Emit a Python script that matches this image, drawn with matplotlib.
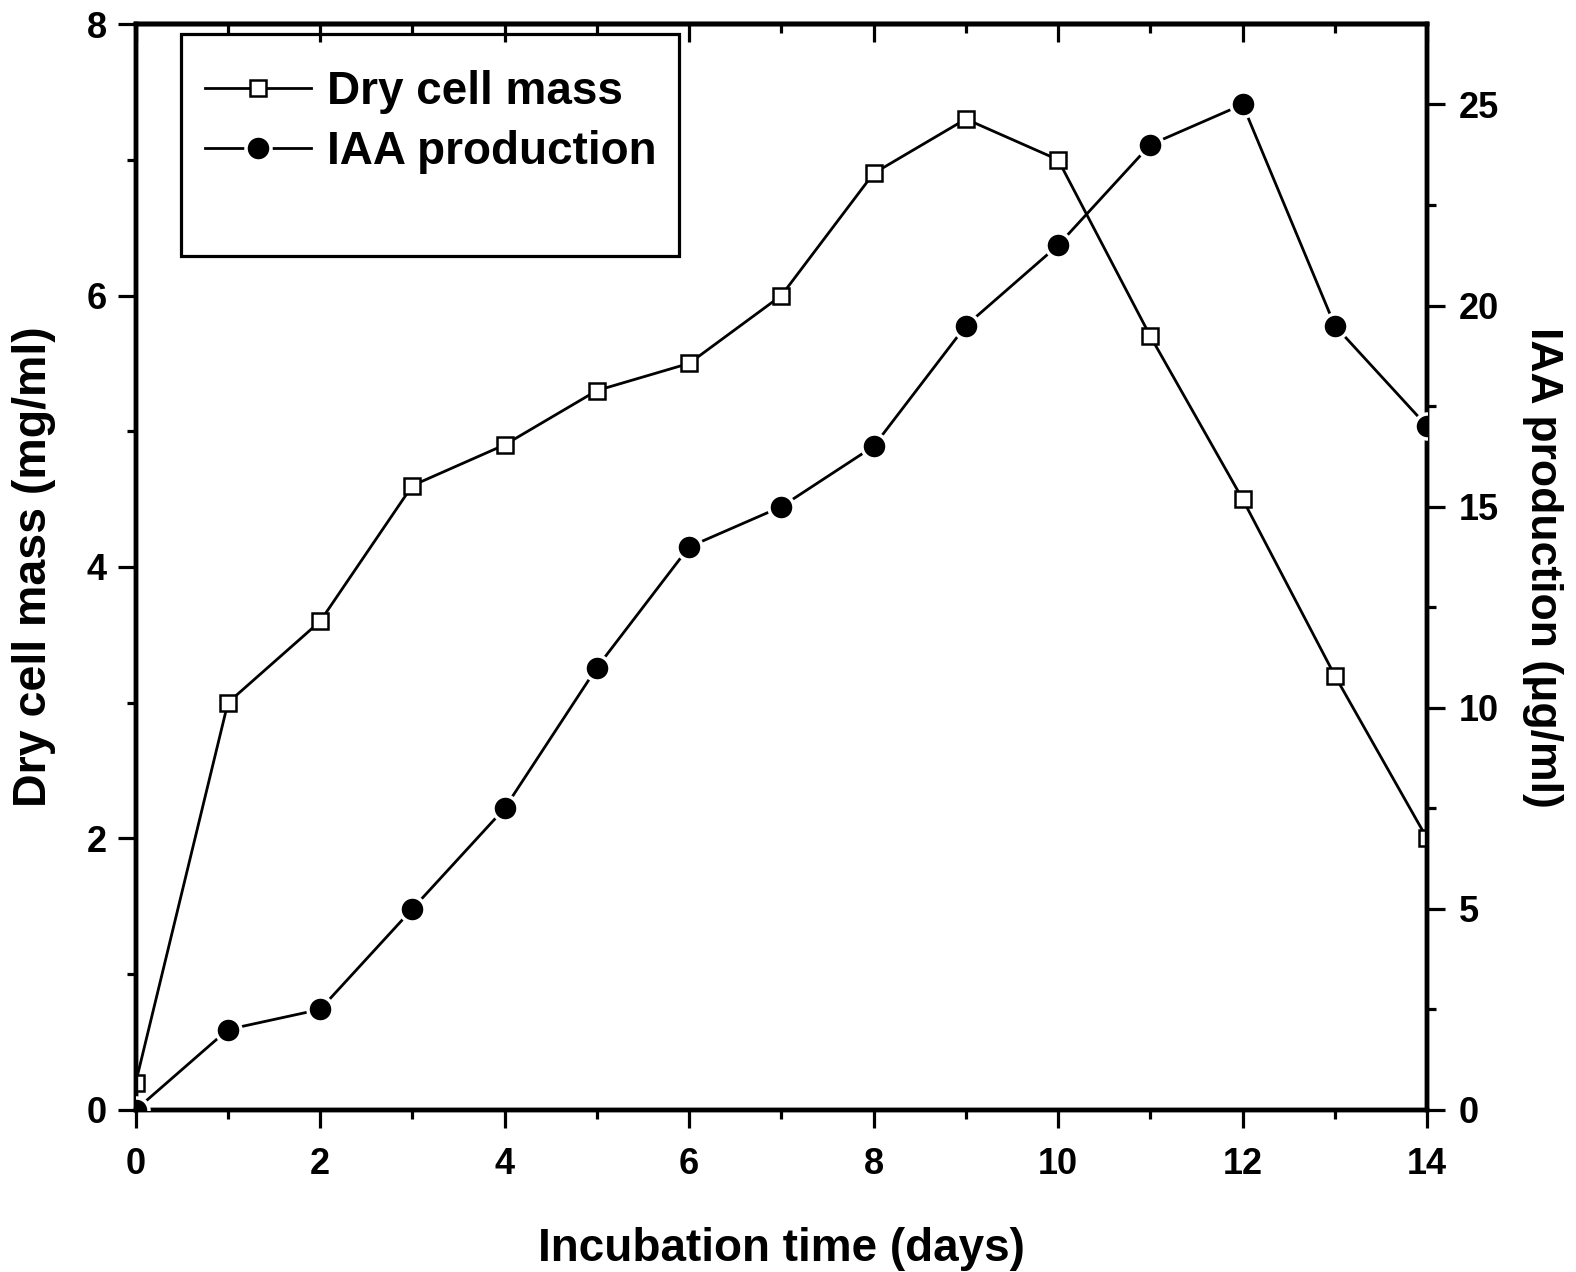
import numpy as np
import matplotlib
matplotlib.use("Agg")
import matplotlib.pyplot as plt
from matplotlib.patches import Rectangle

plt.rcParams['font.family'] = ['Liberation Sans', 'DejaVu Sans']
plt.rcParams['font.weight'] = 'bold'

# data
days = [0, 1, 2, 3, 4, 5, 6, 7, 8, 9, 10, 11, 12, 13, 14]
dry_mass = [0.2, 3.0, 3.6, 4.6, 4.9, 5.3, 5.5, 6.0, 6.9, 7.3, 7.0, 5.7, 4.5, 3.2, 2.0]
iaa = [0.0, 2.0, 2.5, 5.0, 7.5, 11.0, 14.0, 15.0, 16.5, 19.5, 21.5, 24.0, 25.0, 19.5, 17.0]

x_ticks = [0, 2, 4, 6, 8, 10, 12, 14]
left_ticks = [0, 2, 4, 6, 8]
right_ticks = [0, 5, 10, 15, 20, 25]

fig = plt.figure(figsize=(15.76, 12.72), dpi=100)
ax = fig.add_axes([0.0861, 0.1274, 0.8194, 0.8537])
ax2 = ax.twinx()

lw_spine = 3.2
maj = dict(length=13, width=2.3)
mnr = dict(length=6.5, width=2.3)

# dry cell mass: open squares
l1, = ax.plot(days, dry_mass, '-', color='black', lw=2.0, marker='s', ms=12,
              mfc='white', mec='black', mew=1.8, label='Dry cell mass', zorder=3)
# IAA: filled circles, white edge gives Origin-like gap
l2, = ax2.plot(days, iaa, '-', color='black', lw=2.0, marker='o', ms=18,
               mfc='black', mec='white', mew=2.5, label='IAA production', zorder=3)

ax.set_xlim(0, 14)
ax.set_ylim(0, 8)
ax2.set_ylim(0, 27)

ax.set_xticks(x_ticks)
ax.set_xticks(np.arange(1, 14, 2), minor=True)
ax.set_yticks(left_ticks)
ax.set_yticks(np.arange(1, 8, 2), minor=True)
ax2.set_yticks(right_ticks)
ax2.set_yticks(np.arange(2.5, 27, 5), minor=True)

for a in (ax, ax2):
    for s in a.spines.values():
        s.set_linewidth(lw_spine)

ax.tick_params(axis='both', which='major', direction='out', labelsize=26, pad=8, **maj)
ax.tick_params(axis='x', which='major', pad=14)
ax.tick_params(axis='both', which='minor', direction='out', **mnr)
ax2.tick_params(axis='y', which='major', direction='out', labelsize=26, pad=10, **maj)
ax2.tick_params(axis='y', which='minor', direction='out', **mnr)

# top spine ticks pointing inward
top = ax.secondary_xaxis('top')
top.set_xticks(x_ticks)
top.set_xticks(np.arange(1, 14, 2), minor=True)
top.tick_params(axis='x', which='major', direction='in', labeltop=False, **maj)
top.tick_params(axis='x', which='minor', direction='in', **mnr)
top.spines['top'].set_linewidth(lw_spine)

ax.set_xlabel('Incubation time (days)', fontsize=33, fontweight='bold', labelpad=32)
ax.set_ylabel('Dry cell mass (mg/ml)', fontsize=33.5, fontweight='bold', labelpad=22)
ax2.set_ylabel('IAA production (\u03bcg/ml)', fontsize=32, fontweight='bold',
               rotation=270, labelpad=46)

leg = ax.legend(handles=[l1, l2], loc='upper left', bbox_to_anchor=(0.054, 0.958),
                frameon=False, fontsize=33, handlelength=2.3, handletextpad=0.35,
                labelspacing=0.35, borderaxespad=0.0, borderpad=0.0)
for t in leg.get_texts():
    t.set_fontweight('bold')

ax.add_patch(Rectangle((0.035, 0.786), 0.386, 0.205, transform=ax.transAxes,
                       fill=False, edgecolor='black', lw=2.3, zorder=5))

fig.savefig('out.png', dpi=100)
